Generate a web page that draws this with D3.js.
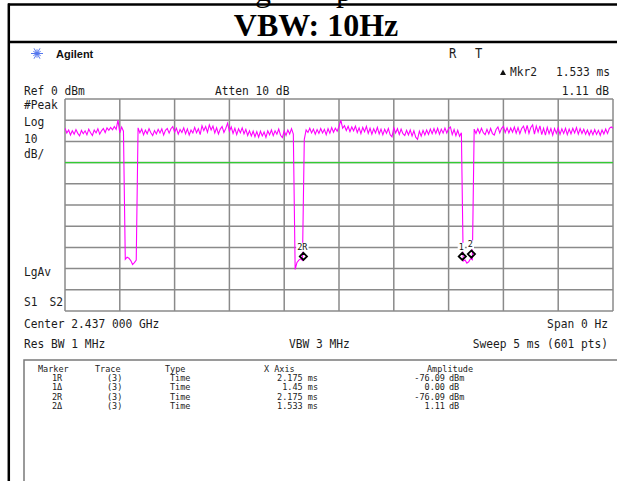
<!DOCTYPE html>
<html><head><meta charset="utf-8">
<script src="https://cdn.jsdelivr.net/npm/d3@7"></script>
<style>html,body{margin:0;padding:0;background:#fff;overflow:hidden}</style>
</head><body>
<svg id="c" width="617" height="481"></svg>
<script>
// ---------- data ----------
const titleText = "VBW: 10Hz";
const sweepMs = 5;                 // span of the time axis (ms)
const refLevel = 0, dbPerDiv = 10, divsY = 10, divsX = 10;
const displayLineDbm = -30;

// trace amplitude (dBm), 301 samples across the 5 ms sweep
const traceDbm = [
 -13.8,-16.0,-14.6,-17.0,-15.0,-16.6,-14.4,-16.2,-17.4,-14.8,
 -16.4,-15.0,-16.9,-14.2,-15.9,-17.2,-14.6,-16.0,-14.0,-16.6,
 -15.0,-13.9,-15.8,-13.6,-14.8,-13.4,-14.5,-13.0,-14.3,-10.0,
 -16.0,-13.2,-15.2,
 -75.6,-74.6,-75.1,-76.2,-78.1,-77.2,-76.0,
 -13.6,-16.0,-14.2,-16.9,-14.7,-16.4,-14.0,-15.9,-17.2,-14.9,
 -16.5,-14.3,-16.0,-14.1,-17.0,-14.8,-13.9,-16.1,-14.0,-13.0,
 -15.6,-13.8,-16.6,-14.4,-15.8,-13.6,-16.4,-14.1,-17.0,-14.6,
 -16.0,-13.4,-15.9,-14.0,-16.8,-12.6,-14.9,-13.0,-15.7,-12.2,
 -14.6,-12.8,-16.0,-13.6,-16.5,-14.2,-13.0,-15.8,-13.9,-11.4,
 -15.2,-13.2,-16.2,-13.8,-16.8,-14.0,-15.9,-13.6,-16.4,-14.3,
 -17.2,-15.0,-17.4,-15.2,-17.8,-15.4,-18.0,-15.2,-17.4,-15.6,
 -18.1,-15.0,-16.9,-14.6,-17.3,-15.0,-16.6,-14.2,-17.1,-18.2,
 -15.1,-17.2,-14.6,-16.5,-14.0,-16.6,
 -80.4,-77.1,-76.0,-75.4,-76.1,
 -19.0,-14.6,
 -15.8,-13.8,-16.0,-14.2,-16.6,-14.4,-16.2,-13.9,-16.0,-14.3,
 -16.8,-14.0,-16.1,-13.5,-15.7,-13.8,-15.2,-13.0,-10.0,-13.8,
 -12.6,-14.9,-12.9,-15.4,-13.2,-15.0,-12.8,-15.8,-13.6,-16.3,
 -13.4,-15.4,-12.9,-16.2,-13.8,-16.6,-14.0,-16.0,-13.4,-16.5,
 -14.2,-16.9,-14.3,-16.2,-13.9,-16.8,-17.8,-13.6,-16.0,-14.0,
 -16.7,-14.2,-16.4,-17.2,-14.8,-17.0,-14.6,-17.4,-15.0,-18.0,
 -19.0,-15.2,-17.5,-14.8,-17.0,-14.6,-16.7,-14.2,-16.4,-14.0,
 -16.2,-13.8,-16.6,-14.2,-16.1,-13.7,-16.0,-14.0,-13.2,-16.8,
 -14.4,-17.3,-14.8,-17.6,-15.9,
 -76.4,-75.9,-77.4,-76.8,-75.3,-75.8,
 -14.2,-16.3,-14.0,-16.1,-13.8,-15.9,-16.8,-14.3,-16.5,-13.9,
 -16.3,-17.0,-14.4,-13.2,-16.0,-13.8,-12.9,-15.8,-13.6,-16.0,
 -13.7,-15.7,-13.2,-16.1,-13.5,-16.4,-13.9,-12.8,-15.8,-12.4,
 -16.2,-13.4,-12.2,-16.6,-12.8,-15.6,-12.7,-16.8,-13.8,-17.0,
 -13.4,-16.4,-14.0,-17.1,-13.9,-16.2,-13.6,-16.7,-14.1,-16.2,
 -13.8,-16.8,-14.2,-16.4,-13.8,-16.0,-13.5,-16.6,-14.0,-16.3,
 -14.3,-16.6,-14.6,-17.0,-14.7,-16.8,-14.4,-16.7,-14.8,-17.1,
 -14.6,-16.5,-14.2,-16.3,-13.8,-13.2,-13.8
];

// on-screen markers
const markerLabels = ["2R", "1", "2"];
const markerTimes  = [2.175, 3.625, 3.708];
const markerAmps   = [-76.09, -76.09, -74.98];

// marker table
const tableHeaders = ["Marker", "Trace", "Type", "X Axis", "Amplitude"];
const tableMarker  = ["1R", "1\u0394", "2R", "2\u0394"];
const tableTrace   = ["(3)", "(3)", "(3)", "(3)"];
const tableType    = ["Time", "Time", "Time", "Time"];
const tableX       = ["2.175 ms", "1.45 ms", "2.175 ms", "1.533 ms"];
const tableAmp     = ["-76.09", "0.00", "-76.09", "1.11"];
const tableUnit    = ["dBm", "dB", "dBm", "dB"];

// ---------- drawing ----------
const svg = d3.select("#c");
const FONT = "DejaVu Sans Mono";
const INK = "#1c1c1c";

function mono(x, y, s, o = {}) {
  const size = o.size || 12.5, sx = o.sx || 0.9;
  return svg.append("text")
    .attr("transform", `translate(${x},${y}) scale(${sx},1)`)
    .attr("font-family", FONT).attr("font-size", size)
    .attr("text-anchor", o.anchor || "start")
    .attr("fill", o.fill || INK)
    .text(s);
}

// cut-off caption above and title box
svg.append("text").attr("x", 255).attr("y", 0.5).attr("font-family", "Liberation Serif")
  .attr("font-size", 32).text("g");
svg.append("text").attr("x", 336).attr("y", 0.5).attr("font-family", "Liberation Serif")
  .attr("font-size", 32).text("p");
svg.append("line").attr("x1", 8).attr("x2", 617).attr("y1", 4.5).attr("y2", 4.5)
  .attr("stroke", "#000").attr("stroke-width", 2.5);
svg.append("line").attr("x1", 8.8).attr("x2", 8.8).attr("y1", 3.5).attr("y2", 481)
  .attr("stroke", "#000").attr("stroke-width", 2.5);
svg.append("line").attr("x1", 8).attr("x2", 617).attr("y1", 42).attr("y2", 42)
  .attr("stroke", "#000").attr("stroke-width", 2.5);
svg.append("text").attr("x", 316).attr("y", 35.5).attr("text-anchor", "middle")
  .attr("font-family", "Liberation Serif").attr("font-weight", "bold")
  .attr("font-size", 32).attr("fill", "#000").text(titleText);

// Agilent logo + name
const logo = svg.append("g").attr("transform", "translate(37,53.5)");
d3.range(12).forEach(k => {
  const a = k * Math.PI / 6, r = (k % 2 ? 4.2 : 6);
  logo.append("line").attr("x1", 0).attr("y1", 0)
    .attr("x2", r * Math.cos(a)).attr("y2", r * Math.sin(a))
    .attr("stroke", "#5577ee").attr("stroke-width", 1);
});
svg.append("text").attr("x", 56).attr("y", 58).attr("font-family", "Liberation Sans")
  .attr("font-weight", "bold").attr("font-size", 11).attr("fill", "#111").text("Agilent");

mono(449, 58, "R", { size: 13.5 });
mono(475, 58, "T", { size: 13.5 });
svg.append("path").attr("d", "M500,75 L503,69.5 L506,75 Z").attr("fill", "#111");
mono(510, 76, "Mkr2");
mono(610, 76, "1.533 ms", { anchor: "end" });

mono(24, 95, "Ref 0 dBm");
mono(215, 95, "Atten 10 dB");
mono(609, 95, "1.11 dB", { anchor: "end" });
mono(24, 109, "#Peak");
mono(24, 126, "Log");
mono(24, 142.5, "10");
mono(24, 158, "dB/");
mono(24, 276, "LgAv");
mono(24, 306, "S1");
mono(49.5, 306, "S2");

// scales
const x = d3.scaleLinear().domain([0, sweepMs]).range([65, 613]);
const y = d3.scaleLinear().domain([refLevel - dbPerDiv * divsY, refLevel]).range([311, 99]);

// grid
const gx = d3.range(0, divsX + 1).map(i => i * sweepMs / divsX);
const gy = d3.range(0, divsY + 1).map(i => refLevel - i * dbPerDiv);
const grid = svg.append("g").attr("stroke", "#8a8a8a").attr("stroke-width", 1.5);
grid.selectAll("line.v").data(gx).join("line").attr("class", "v")
  .attr("x1", d => x(d)).attr("x2", d => x(d)).attr("y1", y.range()[1]).attr("y2", y.range()[0]);
grid.selectAll("line.h").data(gy).join("line").attr("class", "h")
  .attr("y1", d => y(d)).attr("y2", d => y(d)).attr("x1", x.range()[0]).attr("x2", x.range()[1]);

// display line
svg.append("line").attr("x1", x(0)).attr("x2", x(sweepMs))
  .attr("y1", y(displayLineDbm)).attr("y2", y(displayLineDbm))
  .attr("stroke", "#33cc33").attr("stroke-width", 1.2);

// trace
svg.append("clipPath").attr("id", "clip").append("rect")
  .attr("x", 65).attr("y", 99).attr("width", 548).attr("height", 212);
const n = traceDbm.length;
const line = d3.line().x((d, i) => x(i * sweepMs / (n - 1))).y(d => y(d));
svg.append("path").datum(traceDbm).attr("d", line).attr("clip-path", "url(#clip)")
  .attr("fill", "none").attr("stroke", "#ff00ff").attr("stroke-width", 1.1);

// markers
markerTimes.forEach((t, i) => {
  const mx = x(t), my = y(markerAmps[i]);
  const lab = markerLabels[i];
  const w = lab.length * 5.2 + 2;
  svg.append("rect").attr("x", mx - w / 2 - 1).attr("y", my - 17.5).attr("width", w).attr("height", 9)
    .attr("fill", "#fff");
  svg.append("text").attr("x", mx - 1).attr("y", my - 10.5).attr("text-anchor", "middle")
    .attr("font-family", FONT).attr("font-size", 8.5).attr("fill", "#111").text(lab);
  svg.append("path").attr("d", `M${mx},${my - 7.5} L${mx + 3.6},${my - 3.9} L${mx},${my - 0.3} L${mx - 3.6},${my - 3.9} Z`)
    .attr("fill", "none").attr("stroke", "#000").attr("stroke-width", 1.8);
});

// footer lines
mono(24, 328, "Center 2.437 000 GHz");
mono(608, 328, "Span 0 Hz", { anchor: "end" });
mono(24, 348, "Res BW 1 MHz");
mono(289, 348, "VBW 3 MHz");
mono(608, 348, "Sweep 5 ms (601 pts)", { anchor: "end" });

// marker table box
svg.append("path").attr("d", "M24,481 L24,360 L620,360").attr("fill", "none")
  .attr("stroke", "#7a7a7a").attr("stroke-width", 1.5);

const TS = 8.5;
const hx = [38, 95, 165, 264, 427];
tableHeaders.forEach((h, i) => mono(hx[i], 371.5, h, { size: TS, sx: 1 }));
const rowY = [380.5, 390, 399.5, 408.5];
tableMarker.forEach((m, r) => {
  const yy = rowY[r];
  mono(52, yy, m, { size: TS, sx: 1 });
  mono(107, yy, tableTrace[r], { size: TS, sx: 1 });
  mono(170, yy, tableType[r], { size: TS, sx: 1 });
  mono(318, yy, tableX[r], { size: TS, sx: 1, anchor: "end" });
  mono(445, yy, tableAmp[r], { size: TS, sx: 1, anchor: "end" });
  mono(449, yy, tableUnit[r], { size: TS, sx: 1 });
});
</script>
</body></html>
